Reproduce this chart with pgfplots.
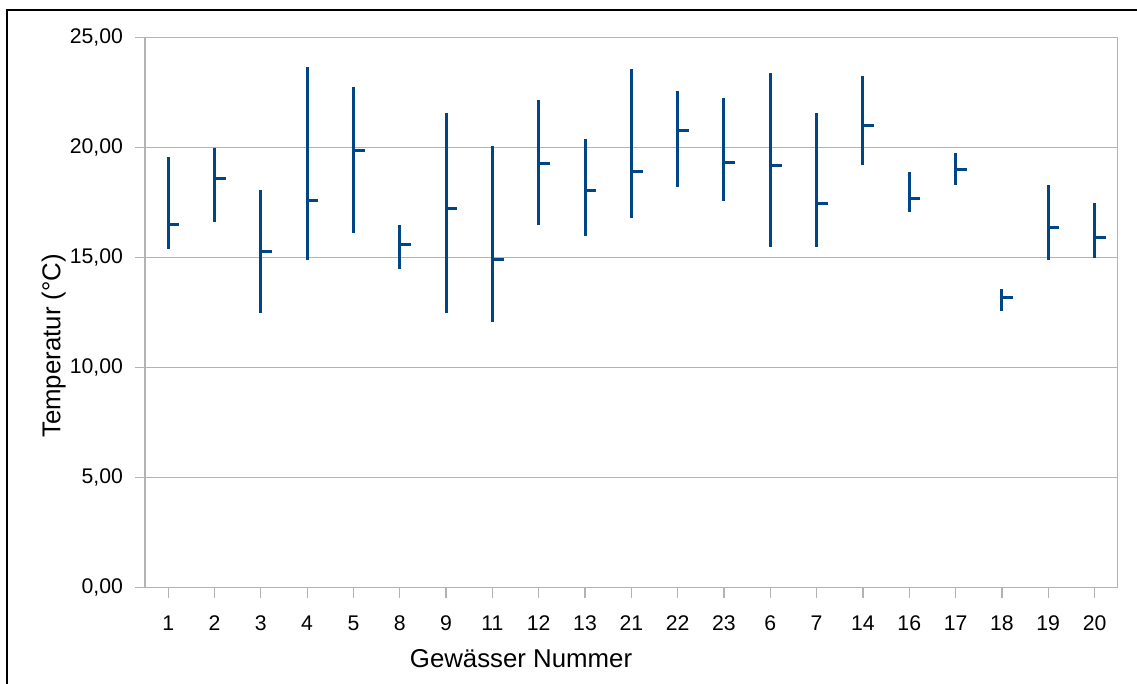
\documentclass[border=0pt]{standalone}
\usepackage{pgfplots}
\pgfplotsset{compat=1.18}
\usepackage{pgfplotstable}
\usepackage{fontspec}
\setmainfont{Liberation Sans}
\definecolor{bar}{HTML}{004586}
\definecolor{gridc}{HTML}{B3B3B3}
\pgfdeclareplotmark{closetick}{%
  \pgfpathmoveto{\pgfqpoint{0pt}{0pt}}%
  \pgfpathlineto{\pgfqpoint{5.6pt}{0pt}}%
  \pgfusepathqstroke}
\pgfplotstableread{
x c h l
0 16.52 19.58 15.40
1 18.59 20.00 16.61
2 15.27 18.08 12.49
3 17.61 23.68 14.90
4 19.86 22.77 16.11
5 15.62 16.47 14.50
6 17.25 21.56 12.49
7 14.90 20.08 12.09
8 19.29 22.18 16.50
9 18.05 20.38 15.99
10 18.93 23.58 16.79
11 20.80 22.58 18.21
12 19.34 22.27 17.59
13 19.20 23.38 15.50
14 17.47 21.56 15.50
15 21.03 23.27 19.20
16 17.68 18.88 17.09
17 18.99 19.77 18.29
18 13.18 13.56 12.59
19 16.36 18.29 14.90
20 15.94 17.47 14.99
}\datatable
\begin{document}
\begin{tikzpicture}
\useasboundingbox (-72.5pt,-48.15pt) rectangle (496pt,293.85pt);
\fill[white] (-72.5pt,-48.15pt) rectangle (496pt,293.85pt);
\draw[black, line width=0.7pt] (-69pt,-48.15pt) -- (-69pt,288.85pt) -- (496pt,288.85pt);
\begin{axis}[
  scale only axis,
  width=486.35pt, height=275pt,
  xmin=-0.5, xmax=20.5,
  ymin=0, ymax=25,
  xtick={0,...,20},
  xticklabels={1,2,3,4,5,8,9,11,12,13,21,22,23,6,7,14,16,17,18,19,20},
  ytick={0,5,10,15,20,25},
  yticklabel={\pgfmathprintnumber[fixed,fixed zerofill,precision=2,use comma,assume math mode=true]{\tick}},
  tick pos=left,
  tick align=outside,
  major tick length=5pt,
  tick style={gridc, line width=0.6pt},
  axis line style={gridc, line width=0.6pt},
  ymajorgrids,
  grid style={gridc, line width=0.6pt},
  ticklabel style={font=\fontsize{10.6}{12}\selectfont, text=black},
  xticklabel style={yshift=-5.5pt},
  yticklabel style={xshift=-2.5pt},
  xlabel={Gewässer Nummer},
  ylabel={Temperatur (°C)},
  every axis x label/.style={at={(axis description cs:0.3866,-0.146)}, anchor=base, font=\fontsize{12.9}{15}\selectfont},
  every axis y label/.style={at={(axis description cs:-0.0869,0.4395)}, anchor=base, rotate=90, font=\fontsize{12.9}{15}\selectfont},
  clip=false,
]
\addplot[only marks, mark=closetick, mark options={draw=bar, line width=1.5pt},
  error bars/.cd, y dir=both, y explicit, error mark=none,
  error bar style={draw=bar, line width=1.5pt}]
  table[x=x, y=c, y error plus expr=\thisrow{h}-\thisrow{c}, y error minus expr=\thisrow{c}-\thisrow{l}] {\datatable};
\end{axis}
\end{tikzpicture}
\end{document}
